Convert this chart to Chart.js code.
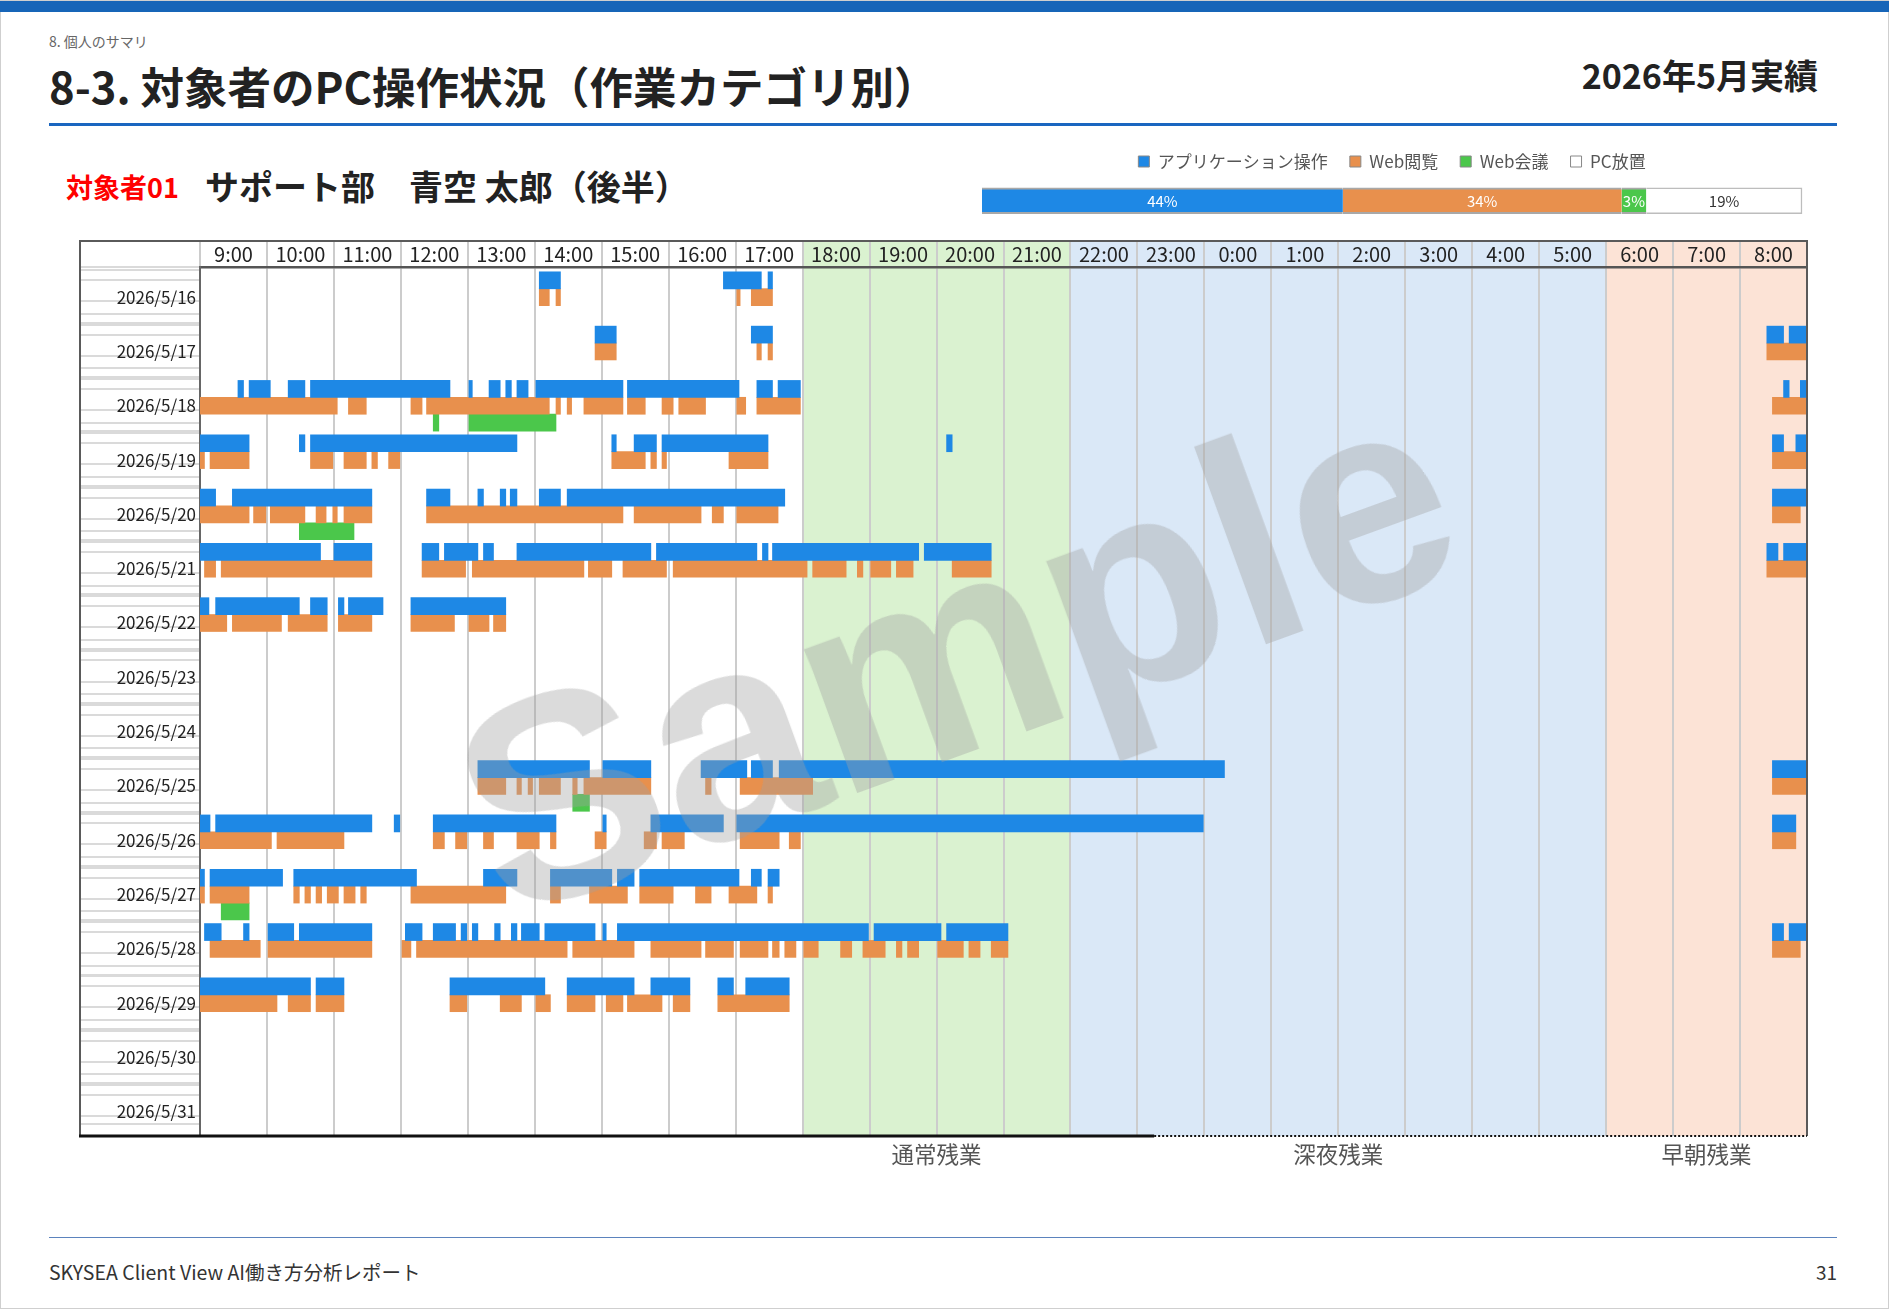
<!DOCTYPE html>
<html lang="ja">
<head>
<meta charset="utf-8">
<script src="https://cdn.jsdelivr.net/npm/chart.js@4.4.1/dist/chart.umd.min.js"></script>
<style>
  html, body { margin: 0; padding: 0; background: #fff; }
  body { width: 1889px; height: 1309px; position: relative; overflow: hidden;
         font-family: "Noto Sans CJK JP", "Noto Sans", sans-serif; color: #222; }
  .page { position: absolute; left: 0; top: 0; width: 1887px; height: 1307px; border: 1px solid #cfcfcf; }
  .topbar { position: absolute; left: 0; top: 1px; width: 1889px; height: 11px; background: #1765b8; }
  .crumb { position: absolute; left: 49px; top: 34px; font-size: 14px; line-height: 14px; color: #666; }
  .title { position: absolute; left: 49px; top: 64px; font-size: 43.5px; line-height: 43.5px; font-weight: bold; color: #222; }
  .period { position: absolute; right: 71px; top: 58px; font-size: 34px; line-height: 34px; font-weight: bold; color: #222; }
  .rule { position: absolute; left: 49px; top: 123px; width: 1788px; height: 3px; background: #1a66c0; }
  .who-id { position: absolute; left: 66px; top: 173px; font-size: 27px; line-height: 27px; font-weight: bold; color: #f00; }
  .who-name { position: absolute; left: 205px; top: 169px; font-size: 34px; line-height: 34px; font-weight: bold; color: #222; }
  #summary { position: absolute; left: 975px; top: 131px; }
  #timeline { position: absolute; left: 79px; top: 240px; }
  .watermark { position: absolute; left: 955px; top: 650px; transform: translate(-50%, -50%) rotate(-20deg);
               font-family: "Liberation Sans", Arial, sans-serif; font-weight: bold; font-size: 290px; line-height: 1;
               color: rgba(160, 160, 160, 0.38); pointer-events: none; white-space: nowrap; }
  .footrule { position: absolute; left: 49px; top: 1237px; width: 1788px; height: 1px; background: #5b83bd; }
  .foot { position: absolute; left: 49px; top: 1262px; font-size: 19.5px; line-height: 19.5px; color: #333; }
  .pageno { position: absolute; right: 52px; top: 1262px; font-size: 19px; line-height: 19px; color: #333; }
</style>
</head>
<body>
<div class="page"></div>
<div class="topbar"></div>
<div class="crumb">8. 個人のサマリ</div>
<div class="title">8-3. 対象者のPC操作状況（作業カテゴリ別）</div>
<div class="period">2026年5月実績</div>
<div class="rule"></div>
<div class="who-id">対象者01</div>
<div class="who-name">サポート部　青空 太郎（後半）</div>
<canvas id="summary" width="835" height="93"></canvas>
<canvas id="timeline" width="1731" height="940"></canvas>
<div class="watermark">Sample</div>
<div class="footrule"></div>
<div class="foot">SKYSEA Client View AI働き方分析レポート</div>
<div class="pageno">31</div>

<script>
// rows: one per day, timeline runs 9:00 -> next day 9:00 (hours past 24 = next day)
const days = ['5/16', '5/17', '5/18', '5/19', '5/20', '5/21', '5/22', '5/23',
              '5/24', '5/25', '5/26', '5/27', '5/28', '5/29', '5/30', '5/31'];

const hourLabels = ['9:00', '10:00', '11:00', '12:00', '13:00', '14:00', '15:00', '16:00',
                    '17:00', '18:00', '19:00', '20:00', '21:00', '22:00', '23:00', '0:00',
                    '1:00', '2:00', '3:00', '4:00', '5:00', '6:00', '7:00', '8:00'];

// アプリケーション操作 (blue lane)
const appTimes = [
  '14:04-14:23 16:49-17:23 17:29-17:33',
  '14:54-15:13 17:14-17:33 32:24-32:39 32:44-33:00',
  '9:34-9:39 9:44-10:03 10:19-10:34 10:39-12:44 13:01-13:04 13:19-13:29 13:34-13:39 13:44-13:54 14:01-15:19 15:23-17:03 17:19-17:33 17:38-17:58 32:39-32:44 32:54-33:00',
  '9:00-9:44 10:29-10:34 10:39-13:44 15:09-15:13 15:29-15:49 15:54-17:29 20:09-20:14 32:29-32:39 32:50-33:00',
  '9:00-9:14 9:29-11:34 12:23-12:44 13:09-13:14 13:29-13:34 13:38-13:44 14:04-14:23 14:29-17:44 32:29-33:00',
  '9:00-10:48 11:00-11:34 12:19-12:34 12:39-13:09 13:14-13:23 13:44-15:44 15:49-17:19 17:24-17:29 17:33-19:44 19:49-20:49 32:24-32:34 32:39-33:00',
  '9:00-9:08 9:14-10:29 10:39-10:54 11:04-11:09 11:13-11:44 12:09-13:34',
  '',
  '',
  '13:09-14:49 15:01-15:44 16:29-17:10 17:14-17:33 17:39-24:18 32:29-33:00',
  '9:00-9:09 9:14-11:34 11:54-11:59 12:29-14:19 15:01-15:04 15:44-16:49 17:01-23:59 32:29-32:50',
  '9:00-9:04 9:09-10:14 10:24-12:14 13:14-13:44 14:14-15:09 15:14-15:29 15:34-17:03 17:14-17:23 17:29-17:39',
  '9:04-9:19 9:39-9:44 10:01-10:24 10:29-11:34 12:04-12:19 12:29-12:49 12:54-12:59 13:04-13:09 13:24-13:29 13:39-13:44 13:48-14:04 14:09-14:54 15:01-15:04 15:14-18:59 19:04-20:04 20:09-21:04 32:29-32:39 32:44-33:00',
  '9:00-10:39 10:44-11:09 12:44-14:09 14:29-15:29 15:44-16:19 16:44-16:58 17:09-17:48',
  '',
  ''
];

// Web閲覧 (orange lane)
const webTimes = [
  '14:04-14:13 14:19-14:23 17:01-17:04 17:14-17:33',
  '14:54-15:13 17:19-17:23 17:29-17:33 32:24-33:00',
  '9:00-11:03 11:13-11:29 12:09-12:19 12:23-14:13 14:19-14:23 14:29-14:33 14:44-15:19 15:23-15:39 15:54-16:04 16:09-16:33 17:01-17:09 17:19-17:58 32:29-33:00',
  '9:00-9:04 9:09-9:44 10:39-10:59 11:09-11:29 11:34-11:39 11:49-11:59 15:09-15:39 15:44-15:49 15:54-15:58 16:54-17:29 32:29-33:00',
  '9:00-9:44 9:48-9:59 10:03-10:34 10:44-10:53 10:59-11:03 11:09-11:34 12:23-15:19 15:29-16:29 16:39-16:49 17:01-17:38 32:29-32:54',
  '9:04-9:14 9:19-11:34 12:19-12:58 13:04-14:44 14:48-15:09 15:19-15:58 16:04-18:04 18:09-18:39 18:49-18:54 19:01-19:19 19:24-19:39 20:14-20:49 32:24-33:00',
  '9:00-9:24 9:29-10:13 10:19-10:54 11:04-11:34 12:09-12:48 13:01-13:19 13:23-13:34',
  '',
  '',
  '13:09-13:34 13:44-13:48 13:54-13:58 14:04-14:23 14:34-14:38 14:44-15:44 16:33-16:38 17:04-18:09 32:29-33:00',
  '9:00-10:04 10:09-11:09 12:29-12:39 12:49-12:59 13:14-13:23 13:44-14:04 14:14-14:19 14:54-15:04 15:38-15:49 15:54-16:14 17:04-17:39 17:48-17:58 32:29-32:50',
  '9:00-9:04 9:09-9:44 10:24-10:29 10:34-10:39 10:44-10:49 10:54-11:04 11:09-11:19 11:24-11:29 12:09-13:34 14:14-14:23 14:49-15:23 15:34-16:04 16:24-16:38 16:54-17:19 17:29-17:33',
  '9:09-9:54 10:01-11:34 12:01-12:09 12:14-14:29 14:34-15:29 15:44-16:29 16:33-16:58 17:04-17:29 17:33-17:39 17:44-17:54 18:01-18:14 18:34-18:44 18:54-19:14 19:24-19:29 19:34-19:44 20:01-20:24 20:29-20:39 20:49-21:04 32:29-32:54',
  '9:00-10:09 10:19-10:39 10:44-11:09 12:44-12:59 13:29-13:48 14:01-14:14 14:29-14:54 15:04-15:19 15:23-15:54 16:04-16:19 16:44-17:48',
  '',
  ''
];

// Web会議 (green lane)
const meetTimes = [
  '', '', '12:29-12:34 13:01-14:19', '', '10:29-11:18', '', '', '', '',
  '14:34-14:49', '', '9:19-9:44', '', '', '', ''
];

// overtime zones along the timeline
const zoneNames = ['通常残業', '深夜残業', '早朝残業'];
const zoneStart = [18, 22, 30];
const zoneEnd = [22, 30, 33];

// monthly share bar
const summaryLabels = ['アプリケーション操作', 'Web閲覧', 'Web会議', 'PC放置'];
const summaryValues = [44, 34, 3, 19];

const BLUE = '#1e88e5', ORANGE = '#e8904d', GREEN = '#4bc74b';
const zoneColors = ['#daf2d0', '#dae8f7', '#fce3d6'];

// lane layout inside one day row (fractions of a row)
const LANE_TOP = 0.09, LANE = 0.31, LANE_GAP = 0.055;
const LABEL_POS = LANE_TOP + 1.5 * LANE;

Chart.defaults.font.family = '"Noto Sans CJK JP", "Noto Sans", sans-serif';
Chart.defaults.animation = false;

function toHour(t) {
  const [h, m] = t.split(':').map(Number);
  return h + m / 60;
}

function segments(list, lane) {
  const out = [];
  list.forEach((row, i) => {
    row.split(' ').filter(Boolean).forEach(p => {
      const [a, b] = p.split('-');
      out.push({ x: [toHour(a), toHour(b)], y: i + LANE_TOP + (lane + 0.5) * LANE });
    });
  });
  return out;
}

function isLabelTick(v) {
  return Math.abs(v - Math.floor(v) - LABEL_POS) < 1e-6;
}

// colored zones behind the bars + zone captions under the chart
const zonePlugin = {
  id: 'zones',
  beforeDraw(chart) {
    const { ctx, chartArea } = chart;
    const x = chart.scales.x;
    ctx.save();
    zoneStart.forEach((s, i) => {
      const x1 = x.getPixelForValue(s), x2 = x.getPixelForValue(zoneEnd[i]);
      ctx.fillStyle = zoneColors[i];
      ctx.fillRect(x1, 1, x2 - x1, chartArea.bottom - 1);
    });
    ctx.restore();
  },
  afterDraw(chart) {
    const { ctx, chartArea } = chart;
    const x = chart.scales.x;
    ctx.save();
    ctx.fillStyle = '#555';
    ctx.font = '22.5px "Noto Sans CJK JP", sans-serif';
    ctx.textAlign = 'center';
    ctx.textBaseline = 'middle';
    zoneNames.forEach((n, i) => {
      ctx.fillText(n, x.getPixelForValue((zoneStart[i] + zoneEnd[i]) / 2), chartArea.bottom + 18);
    });
    ctx.restore();
  }
};

// outer table frame
const framePlugin = {
  id: 'frame',
  afterDraw(chart) {
    const { ctx, chartArea } = chart;
    const x = chart.scales.x;
    const r = chartArea.right, b = chartArea.bottom;
    ctx.save();
    ctx.strokeStyle = '#5a5a5a';
    ctx.lineWidth = 2;
    ctx.beginPath();
    ctx.moveTo(0, 1); ctx.lineTo(r, 1);
    ctx.moveTo(1, 0); ctx.lineTo(1, b);
    ctx.moveTo(r, 0); ctx.lineTo(r, b);
    ctx.stroke();
    const cut = x.getPixelForValue(23.25);
    ctx.strokeStyle = '#111';
    ctx.lineWidth = 3;
    ctx.beginPath();
    ctx.moveTo(0, b); ctx.lineTo(cut, b);
    ctx.stroke();
    ctx.setLineDash([2, 2]);
    ctx.lineWidth = 2;
    ctx.beginPath();
    ctx.moveTo(cut, b); ctx.lineTo(r, b);
    ctx.stroke();
    ctx.restore();
  }
};

new Chart(document.getElementById('timeline'), {
  type: 'bar',
  data: {
    datasets: [
      { label: summaryLabels[0], data: segments(appTimes, 0), backgroundColor: BLUE },
      { label: summaryLabels[1], data: segments(webTimes, 1), backgroundColor: ORANGE },
      { label: summaryLabels[2], data: segments(meetTimes, 2), backgroundColor: GREEN }
    ]
  },
  options: {
    indexAxis: 'y',
    responsive: false,
    layout: { padding: { top: 0, left: 0, right: 3, bottom: 44 } },
    datasets: { bar: { grouped: false, barThickness: 17, borderWidth: 0 } },
    plugins: { legend: { display: false }, tooltip: { enabled: false } },
    scales: {
      x: { type: 'linear', min: 9, max: 33, display: false },
      xTop: {
        type: 'category', position: 'top', labels: hourLabels, offset: true, z: 1,
        grid: { offset: true, color: '#cccccc', lineWidth: 2, tickLength: 27, drawOnChartArea: true },
        border: { display: true, color: '#555', width: 2.5 },
        ticks: { color: '#222', font: { size: 20 }, padding: -26, maxRotation: 0, autoSkip: false },
        afterFit(s) { s.height = 27; }
      },
      y: {
        type: 'linear', reverse: true, min: 0, max: days.length, offset: false,
        afterBuildTicks(s) {
          const t = [];
          days.forEach((d, i) => {
            [LANE_TOP - LANE_GAP, LANE_TOP, LANE_TOP + LANE, LABEL_POS, LANE_TOP + 2 * LANE, LANE_TOP + 3 * LANE]
              .forEach(f => { if (i + f <= days.length) t.push({ value: i + f }); });
          });
          s.ticks = t;
        },
        grid: {
          drawOnChartArea: false, tickLength: 121, lineWidth: 2,
          color: c => (c.tick && isLabelTick(c.tick.value) ? 'rgba(0,0,0,0)' : '#dadada')
        },
        border: { display: true, color: '#666', width: 2 },
        ticks: {
          autoSkip: false, padding: -117, color: '#222', font: { size: 17 },
          callback: v => (isLabelTick(v) ? '2026/' + days[Math.floor(v)] : '')
        },
        afterFit(s) { s.width = 121; }
      }
    }
  },
  plugins: [zonePlugin, framePlugin]
});

// percentage captions inside the share bar
const pctPlugin = {
  id: 'pct',
  afterDatasetsDraw(chart) {
    const { ctx } = chart;
    ctx.save();
    ctx.font = '15px "Noto Sans CJK JP", sans-serif';
    ctx.textAlign = 'center';
    ctx.textBaseline = 'middle';
    chart.data.datasets.forEach((ds, i) => {
      const el = chart.getDatasetMeta(i).data[0];
      ctx.fillStyle = i === 3 ? '#333' : '#fff';
      ctx.fillText(summaryValues[i] + '%', (el.x + el.base) / 2, el.y + 1);
    });
    ctx.restore();
  }
};

const shareColors = [BLUE, ORANGE, GREEN, '#ffffff'];

new Chart(document.getElementById('summary'), {
  type: 'bar',
  data: {
    labels: ['合計'],
    datasets: summaryLabels.map((l, i) => ({
      label: l,
      data: [summaryValues[i]],
      backgroundColor: shareColors[i],
      borderColor: i === 3 ? '#bdbdbd' : '#a8a8a8',
      borderWidth: i === 3 ? { top: 1.5, bottom: 1.5, right: 1.5, left: 0 } : { top: 2, bottom: 2, left: 0, right: 0 },
      borderSkipped: false,
      barThickness: 26,
      clip: false
    }))
  },
  options: {
    indexAxis: 'y',
    responsive: false,
    layout: { padding: { left: 7, right: 8, top: 0, bottom: 0 } },
    scales: {
      x: { stacked: true, min: 0, max: 100, display: false },
      y: { stacked: true, display: false }
    },
    plugins: {
      tooltip: { enabled: false },
      legend: {
        position: 'top',
        labels: {
          boxWidth: 11, boxHeight: 11, padding: 22, color: '#555', font: { size: 17 },
          generateLabels: chart => chart.data.datasets.map((ds, i) => ({
            text: ds.label, fillStyle: shareColors[i], strokeStyle: '#888', lineWidth: 1,
            hidden: false, datasetIndex: i, fontColor: '#555'
          }))
        }
      }
    }
  },
  plugins: [pctPlugin]
});
</script>
</body>
</html>
